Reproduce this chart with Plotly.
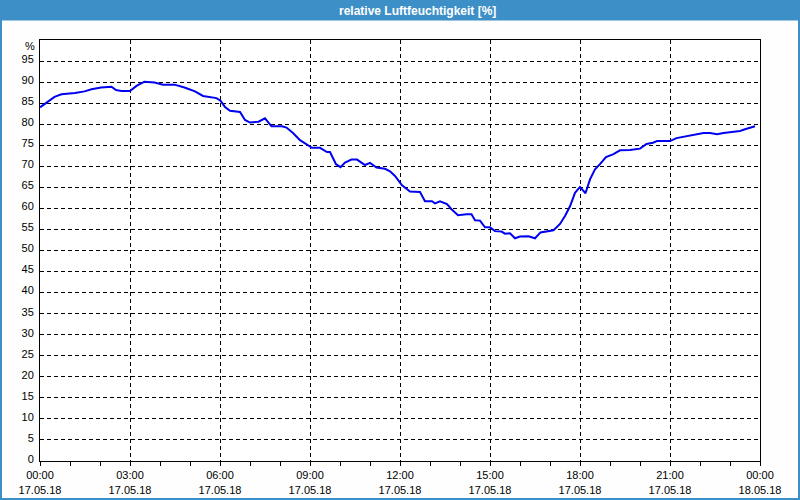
import plotly.graph_objects as go

times = ["00:00","00:16","00:29","00:43","01:10","01:29","01:43","02:02","02:23","02:32","02:43",
         "03:00","03:13","03:29","03:49","04:06","04:29","04:49","05:10","05:26","05:43","05:53",
         "06:01","06:10","06:20","06:40","06:50","07:00","07:17","07:30","07:43","08:04","08:13",
         "08:26","08:40","08:53","09:04","09:20","09:34","09:40","09:52","10:01","10:10","10:23",
         "10:34","10:50","11:00","11:13","11:30","11:40","11:50","12:04","12:20","12:40","12:50",
         "13:04","13:10","13:20","13:34","13:43","13:56","14:13","14:23","14:30","14:40","14:50",
         "15:00","15:10","15:23","15:30","15:40","15:50","16:00","16:17","16:30","16:41","16:53",
         "17:07","17:20","17:30","17:40","17:50","18:00","18:11","18:20","18:30","18:40","18:52",
         "19:07","19:20","19:40","20:00","20:13","20:26","20:34","21:00","21:13","21:34","21:53",
         "22:07","22:20","22:34","22:47","23:07","23:20","23:30","23:40","23:50"]
humidity = [84.0,85.4,86.5,87.1,87.4,87.8,88.3,88.7,88.9,88.1,87.9,
            87.9,89.1,90.1,89.9,89.4,89.4,88.7,87.8,86.7,86.4,86.2,
            85.6,84.1,83.2,82.9,81.0,80.4,80.6,81.4,79.5,79.5,79.2,
            77.9,76.2,75.2,74.4,74.4,73.4,73.4,70.5,69.8,70.9,71.6,
            71.6,70.3,70.8,69.7,69.4,68.8,67.7,65.5,64.0,63.9,61.7,
            61.7,61.2,61.7,61.0,59.8,58.4,58.6,58.6,57.2,57.1,55.5,
            55.5,54.6,54.5,54.0,54.1,52.9,53.3,53.4,52.9,54.3,54.5,
            54.8,56.3,58.2,60.5,63.7,65.1,63.6,66.9,69.3,70.5,72.2,
            72.9,73.8,73.9,74.2,75.3,75.6,76.0,76.0,76.7,77.1,77.6,
            77.9,77.9,77.6,77.9,78.2,78.4,78.8,79.2,79.5]

x_tick_vals = ["2018-05-17 00:00","2018-05-17 03:00","2018-05-17 06:00","2018-05-17 09:00",
               "2018-05-17 12:00","2018-05-17 15:00","2018-05-17 18:00","2018-05-17 21:00",
               "2018-05-18 00:00"]
x_tick_text = ["00:00<br>17.05.18","03:00<br>17.05.18","06:00<br>17.05.18","09:00<br>17.05.18",
               "12:00<br>17.05.18","15:00<br>17.05.18","18:00<br>17.05.18","21:00<br>17.05.18",
               "00:00<br>18.05.18"]
y_tick_vals = list(range(0, 100, 5))
y_tick_text = [str(v) for v in y_tick_vals]
title_text = "relative Luftfeuchtigkeit [%]"

x_values = ["2018-05-17 " + t for t in times]

BLUE = "#3D8FC7"
FONT = "Liberation Sans"

fig = go.Figure()
fig.add_trace(go.Scatter(x=x_values, y=humidity, mode="lines",
                         line=dict(color="#0000F0", width=2), hoverinfo="skip"))

# plot area: x 40..760, y 40..461 px
L, R, T, B = 40, 40, 40, 39
W, H = 800 - L - R, 500 - T - B

def px(xp):
    return (xp - L) / W

def py(yp):
    return (500 - B - yp) / H

fig.update_layout(
    width=800, height=500,
    margin=dict(l=L, r=R, t=T, b=B, autoexpand=False),
    paper_bgcolor="#FDFEFD", plot_bgcolor="#FFFFFF",
    showlegend=False,
    font=dict(family=FONT, size=11, color="#000000"),
    xaxis=dict(
        type="date",
        range=["2018-05-17 00:00", "2018-05-18 00:00"],
        tickmode="array", tickvals=x_tick_vals, ticktext=x_tick_text,
        ticks="outside", ticklen=4, tickcolor="#000000",
        showgrid=True, gridcolor="#000000", gridwidth=1, griddash="4px,3px",
        showline=True, linecolor="#000000", linewidth=1, mirror=True,
        zeroline=False, tickangle=0, automargin=False,
        minor=dict(tickmode="linear", tick0="2018-05-17 00:00", dtick=3600000,
                   ticks="outside", ticklen=4, tickcolor="#000000", showgrid=False),
        fixedrange=True,
    ),
    yaxis=dict(
        range=[0, 100],
        tickmode="array", tickvals=y_tick_vals, ticktext=y_tick_text,
        ticks="", ticklabelstandoff=3, ticklabelshift=-2,
        showgrid=True, gridcolor="#000000", gridwidth=1, griddash="4px,3px",
        showline=True, linecolor="#000000", linewidth=1, mirror=True,
        zeroline=False, fixedrange=True, automargin=False,
    ),
    shapes=[
        dict(type="rect", xref="paper", yref="paper",
             x0=px(0), x1=px(800), y0=py(20.5), y1=py(0),
             fillcolor=BLUE, line=dict(width=0), layer="above"),
        dict(type="rect", xref="paper", yref="paper",
             x0=px(1), x1=px(799), y0=py(499), y1=py(1),
             fillcolor="rgba(0,0,0,0)", line=dict(color=BLUE, width=2), layer="above"),
    ],
    annotations=[
        dict(text="<b>" + title_text + "</b>", xref="paper", yref="paper",
             x=px(417), y=py(10.5), xanchor="center", yanchor="middle",
             showarrow=False, font=dict(family=FONT, size=12, color="#FFFFFF")),
        dict(text="%", xref="paper", yref="paper",
             x=px(37), y=py(46), xanchor="right", yanchor="middle",
             showarrow=False, font=dict(family=FONT, size=11, color="#000000")),
    ],
)

fig.write_html(
    "out.html",
    config={"displayModeBar": False},
    post_script=(
        "var s=document.createElement('style');"
        "s.textContent='html,body{margin:0;padding:0;width:800px;height:500px;overflow:hidden;}"
        ".plotly-graph-div{position:fixed!important;left:0;top:0;}';"
        "document.head.appendChild(s);"
    ),
)
